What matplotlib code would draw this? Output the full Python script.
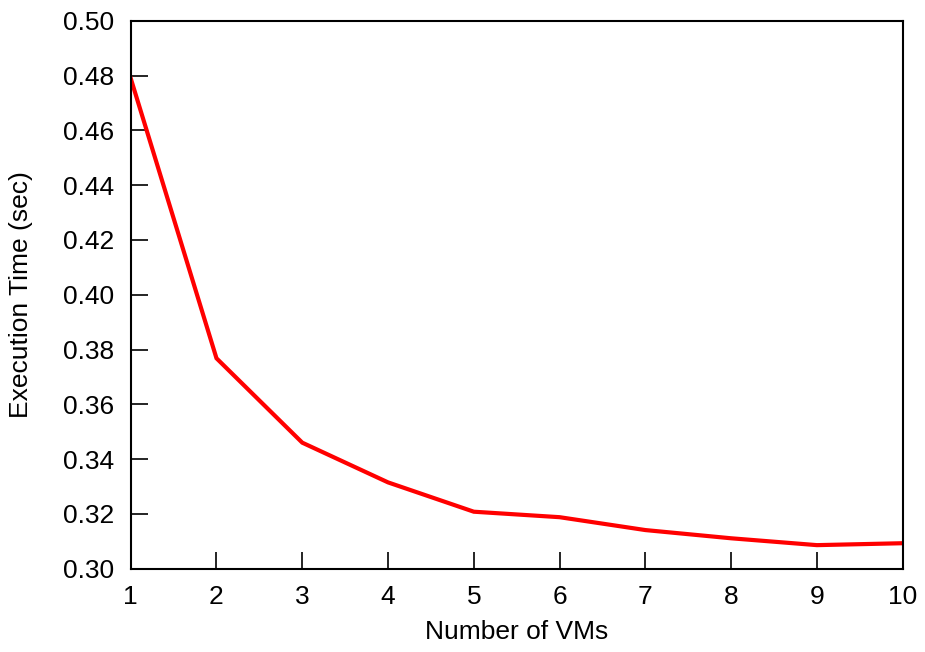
import matplotlib
matplotlib.use("Agg")
import matplotlib.pyplot as plt

vms = [1, 2, 3, 4, 5, 6, 7, 8, 9, 10]
exec_time = [0.479, 0.3768, 0.346, 0.3315, 0.3208, 0.3188, 0.3141, 0.3111, 0.3086, 0.3093]
yticks = [0.30, 0.32, 0.34, 0.36, 0.38, 0.40, 0.42, 0.44, 0.46, 0.48, 0.50]

plt.rcParams['font.family'] = ['Liberation Sans', 'DejaVu Sans']
fig = plt.figure(figsize=(9.25, 6.52), dpi=100)
L, R, T, B = 130.7, 902.7, 20.7, 568.7
ax = fig.add_axes([L/925, 1 - B/652, (R-L)/925, (B-T)/652])
ax.plot(vms, exec_time, color='#ff0000', lw=3, solid_joinstyle='miter')
ax.set_xlim(1, 10)
ax.set_ylim(0.30, 0.50)
ax.set_xticks(vms)
ax.set_yticks(yticks)
ax.set_yticklabels([f"{v:.2f}" for v in yticks])
ax.tick_params(direction='in', length=12, width=1.2, labelsize=19, pad=12,
               top=False, right=False)
for s in ax.spines.values():
    s.set_linewidth(1.5)
ax.set_xlabel('Number of VMs', fontsize=19)
ax.set_ylabel('Execution Time (sec)', fontsize=19)
ax.yaxis.set_label_coords((33 - L)/(R - L), 0.5)
ax.xaxis.set_label_coords(0.5, -(620 - B)/(B - T))
ax.xaxis.label.set_va('top')
fig.savefig('out.png', dpi=100)
